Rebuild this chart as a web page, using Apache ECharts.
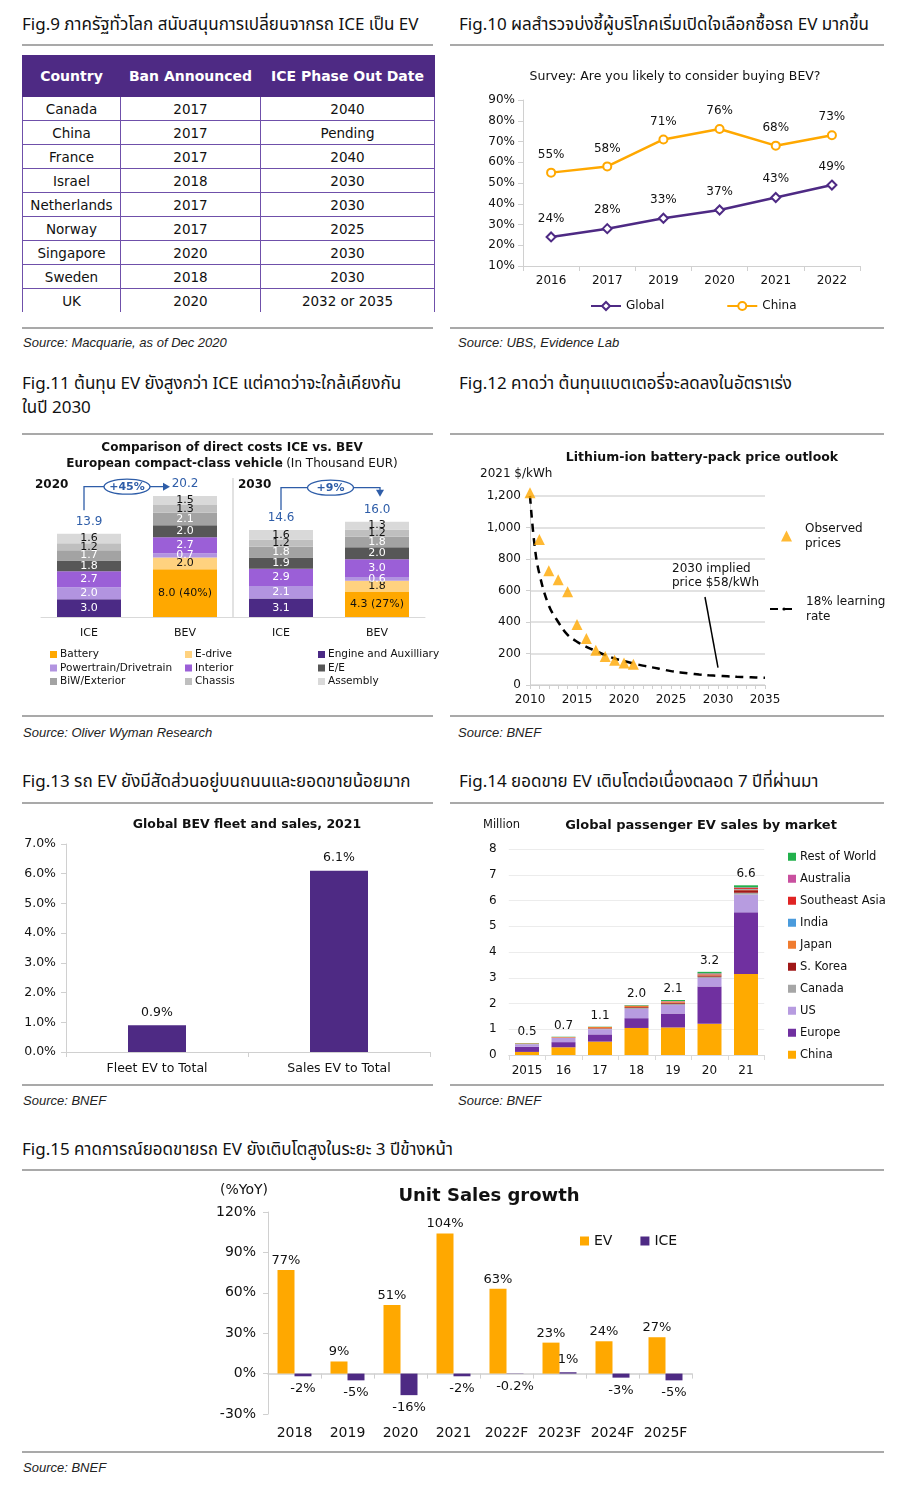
<!DOCTYPE html>
<html><head><meta charset="utf-8">
<script src="https://cdn.jsdelivr.net/npm/echarts@6/dist/echarts.min.js"></script>
<style>
body{margin:0;background:#fff;}
#page{position:relative;width:900px;height:1490px;overflow:hidden;background:#fff;font-family:'DejaVu Sans',sans-serif;}
.t{position:absolute;font-size:17px;line-height:24px;color:#111;white-space:nowrap;font-family:'Noto Sans Thai','Noto Sans Thai UI','Loma','Garuda','Noto Sans','DejaVu Sans',sans-serif;}
.hr{position:absolute;height:0;border-top:2px solid #a9a9a9;}
.src{position:absolute;font-size:13px;line-height:16px;font-style:italic;color:#222;white-space:nowrap;font-family:'Liberation Sans','DejaVu Sans',sans-serif;}
.c{position:absolute;}
#tbl{position:absolute;left:22px;top:55px;width:412px;border-collapse:collapse;table-layout:fixed;font-family:'DejaVu Sans',sans-serif;}
#tbl th{background:#4E2A84;color:#fff;height:40px;font-size:14px;font-weight:bold;border:1.5px solid #4E2A84;padding:0;}
#tbl td{height:23px;text-align:center;font-size:13.5px;color:#111;border:1.5px solid #6f50aa;padding:0;}
#tbl tr:last-child td{border-bottom:none;}
</style>
</head><body>
<div id="page">
  <div class="t" style="left:22px;top:13px">Fig.9 ภาครัฐทั่วโลก สนับสนุนการเปลี่ยนจากรถ ICE เป็น EV</div>
  <div class="t" style="left:459px;top:13px">Fig.10 ผลสำรวจบ่งชี้ผู้บริโภคเริ่มเปิดใจเลือกซื้อรถ EV มากขึ้น</div>
  <div class="t" style="left:22px;top:372px">Fig.11 ต้นทุน EV ยังสูงกว่า ICE แต่คาดว่าจะใกล้เคียงกัน</div>
  <div class="t" style="left:22px;top:396px">ในปี 2030</div>
  <div class="t" style="left:459px;top:372px">Fig.12 คาดว่า ต้นทุนแบตเตอรี่จะลดลงในอัตราเร่ง</div>
  <div class="t" style="left:22px;top:770px">Fig.13 รถ EV ยังมีสัดส่วนอยู่บนถนนและยอดขายน้อยมาก</div>
  <div class="t" style="left:459px;top:770px">Fig.14 ยอดขาย EV เติบโตต่อเนื่องตลอด 7 ปีที่ผ่านมา</div>
  <div class="t" style="left:22px;top:1138px">Fig.15 คาดการณ์ยอดขายรถ EV ยังเติบโตสูงในระยะ 3 ปีข้างหน้า</div>

  <div class="hr" style="left:22px;top:44px;width:411px"></div>
  <div class="hr" style="left:450px;top:44px;width:434px"></div>
  <div class="hr" style="left:22px;top:327px;width:411px"></div>
  <div class="hr" style="left:450px;top:327px;width:434px"></div>
  <div class="hr" style="left:22px;top:433px;width:411px"></div>
  <div class="hr" style="left:450px;top:433px;width:434px"></div>
  <div class="hr" style="left:22px;top:715px;width:411px"></div>
  <div class="hr" style="left:450px;top:715px;width:434px"></div>
  <div class="hr" style="left:22px;top:802px;width:411px"></div>
  <div class="hr" style="left:450px;top:802px;width:434px"></div>
  <div class="hr" style="left:22px;top:1084px;width:411px"></div>
  <div class="hr" style="left:450px;top:1084px;width:434px"></div>
  <div class="hr" style="left:22px;top:1169px;width:862px"></div>
  <div class="hr" style="left:22px;top:1451px;width:862px"></div>

  <div class="src" style="left:23px;top:335px">Source: Macquarie, as of Dec 2020</div>
  <div class="src" style="left:458px;top:335px">Source: UBS, Evidence Lab</div>
  <div class="src" style="left:23px;top:725px">Source: Oliver Wyman Research</div>
  <div class="src" style="left:458px;top:725px">Source: BNEF</div>
  <div class="src" style="left:23px;top:1093px">Source: BNEF</div>
  <div class="src" style="left:458px;top:1093px">Source: BNEF</div>
  <div class="src" style="left:23px;top:1460px">Source: BNEF</div>

  <table id="tbl"></table>

  <div class="c" id="c10" style="left:450px;top:50px;width:450px;height:270px"></div>
  <div class="c" id="c11" style="left:15px;top:436px;width:430px;height:278px"></div>
  <div class="c" id="c12" style="left:450px;top:436px;width:450px;height:278px"></div>
  <div class="c" id="c13" style="left:15px;top:808px;width:430px;height:275px"></div>
  <div class="c" id="c14" style="left:450px;top:808px;width:450px;height:275px"></div>
  <div class="c" id="c15" style="left:15px;top:1175px;width:885px;height:275px"></div>
</div>
<script>
// ---------- DATA ----------
// Fig.9 table
const tblHeader = ['Country', 'Ban Announced', 'ICE Phase Out Date'];
const tblCountries = ['Canada', 'China', 'France', 'Israel', 'Netherlands', 'Norway', 'Singapore', 'Sweden', 'UK'];
const tblBan = ['2017', '2017', '2017', '2018', '2017', '2017', '2020', '2018', '2020'];
const tblPhaseOut = ['2040', 'Pending', '2040', '2030', '2030', '2025', '2030', '2030', '2032 or 2035'];

// Fig.10 survey
const surveyYears = ['2016', '2017', '2019', '2020', '2021', '2022'];
const surveyGlobal = [24, 28, 33, 37, 43, 49];
const surveyChina = [55, 58, 71, 76, 68, 73];

// Fig.11 cost comparison (thousand EUR): ICE 2020, BEV 2020, ICE 2030, BEV 2030
const costCats = ['ICE', 'BEV', 'ICE', 'BEV'];
const costPeriods = ['2020', '2030'];
const costEngine = [3.0, null, 3.1, null];
const costBattery = [null, 8.0, null, 4.3];
const costEdrive = [null, 2.0, null, 1.8];
const costPowertrain = [2.0, 0.7, 2.1, 0.6];
const costInterior = [2.7, 2.7, 2.9, 3.0];
const costEE = [1.8, 2.0, 1.9, 2.0];
const costBiW = [1.7, 2.1, 1.8, 1.8];
const costChassis = [1.2, 1.3, 1.2, 1.2];
const costAssembly = [1.6, 1.5, 1.6, 1.3];
const costTotals = [13.9, 20.2, 14.6, 16.0];
const batteryShare = [null, 40, null, 27];
const costChange = ['+45%', '+9%'];

// Fig.12 battery price ($/kWh, 2021 real)
const priceYears = [2010, 2011, 2012, 2013, 2014, 2015, 2016, 2017, 2018, 2019, 2020, 2021];
const priceObserved = [1220, 924, 726, 668, 592, 384, 295, 221, 181, 157, 140, 132];
const curveYears = [2010, 2010.5, 2011, 2012, 2013, 2014, 2015, 2016, 2017, 2018, 2019, 2020, 2021, 2022, 2023, 2024, 2025, 2026, 2027, 2028, 2029, 2030, 2031, 2032, 2033, 2034, 2035];
const curvePrice = [1200, 880, 705, 505, 400, 318, 275, 242, 216, 190, 168, 152, 137, 123, 112, 100, 88, 80, 73, 67, 62, 58, 55, 52, 50, 48, 46];

// Fig.13
const fleetCats = ['Fleet EV to Total', 'Sales EV to Total'];
const fleetShare = [0.9, 6.1];

// Fig.14 EV sales by market (million)
const salesYears = ['2015', '16', '17', '18', '19', '20', '21'];
const salesChina = [0.12, 0.30, 0.52, 1.05, 1.07, 1.21, 3.15];
const salesEurope = [0.20, 0.20, 0.28, 0.38, 0.54, 1.45, 2.39];
const salesUS = [0.10, 0.16, 0.20, 0.36, 0.33, 0.33, 0.69];
const salesCanada = [0.01, 0.01, 0.02, 0.04, 0.05, 0.05, 0.07];
const salesKorea = [0.005, 0.01, 0.02, 0.03, 0.04, 0.05, 0.10];
const salesJapan = [0.02, 0.02, 0.05, 0.05, 0.04, 0.03, 0.03];
const salesIndia = [0, 0, 0, 0, 0.005, 0.01, 0.02];
const salesSEA = [0, 0, 0, 0.005, 0.01, 0.02, 0.04];
const salesAustralia = [0, 0, 0, 0.005, 0.01, 0.02, 0.02];
const salesRoW = [0.01, 0.01, 0.01, 0.02, 0.04, 0.06, 0.08];
const salesTotals = ['0.5', '0.7', '1.1', '2.0', '2.1', '3.2', '6.6'];

// Fig.15 unit sales growth (%YoY)
const growthYears = ['2018', '2019', '2020', '2021', '2022F', '2023F', '2024F', '2025F'];
const growthEV = [77, 9, 51, 104, 63, 23, 24, 27];
const growthICE = [-2, -5, -16, -2, -0.2, 1, -3, -5];

// ---------- STYLE ----------
const F = 'DejaVu Sans';
const PURPLE = '#4E2A84';
const ORANGE = '#FFA800';
const AX = '#d0d0d0';
const TXT = '#111';

// ---------- Fig.9 table ----------
(function () {
  const t = document.getElementById('tbl');
  const widths = [98, 140, 174];
  let h = '<colgroup>' + widths.map(w => '<col style="width:' + w + 'px">').join('') + '</colgroup>';
  h += '<tr>' + tblHeader.map(x => '<th>' + x + '</th>').join('') + '</tr>';
  tblCountries.forEach((c, i) => {
    h += '<tr><td>' + c + '</td><td>' + tblBan[i] + '</td><td>' + tblPhaseOut[i] + '</td></tr>';
  });
  t.innerHTML = h;
})();

// ---------- Fig.10 ----------
const c10 = echarts.init(document.getElementById('c10'));
c10.setOption({
  animation: false,
  textStyle: { fontFamily: F },
  title: { text: 'Survey: Are you likely to consider buying BEV?', left: 'center', top: 15,
    textStyle: { fontFamily: F, fontSize: 12.5, fontWeight: 'normal', color: TXT } },
  grid: { left: 73, right: 40, top: 50, height: 166 },
  xAxis: { type: 'category', data: surveyYears,
    axisLine: { lineStyle: { color: AX } }, axisTick: { show: true, lineStyle: { color: AX } },
    axisLabel: { color: TXT, fontSize: 12, margin: 9, interval: 0 } },
  yAxis: { type: 'value', min: 10, max: 90, interval: 10,
    axisLine: { show: true, lineStyle: { color: AX } }, axisTick: { show: true, lineStyle: { color: AX } },
    splitLine: { show: false }, axisLabel: { formatter: '{value}%', color: TXT, fontSize: 12 } },
  legend: { data: ['Global', 'China'], left: 135, top: 245, itemGap: 62, itemWidth: 30, itemHeight: 10,
    textStyle: { fontFamily: F, fontSize: 12, color: TXT } },
  series: [
    { name: 'Global', type: 'line', data: surveyGlobal, symbol: 'diamond', symbolSize: 9,
      itemStyle: { color: '#fff', borderColor: PURPLE, borderWidth: 2 },
      lineStyle: { color: PURPLE, width: 2.5 },
      label: { show: true, position: 'top', distance: 7, formatter: '{c}%', color: TXT, fontSize: 12 } },
    { name: 'China', type: 'line', data: surveyChina, symbol: 'circle', symbolSize: 8,
      itemStyle: { color: '#fff', borderColor: ORANGE, borderWidth: 2 },
      lineStyle: { color: ORANGE, width: 2.5 },
      label: { show: true, position: 'top', distance: 7, formatter: '{c}%', color: TXT, fontSize: 12 } }
  ]
});

// ---------- Fig.11 ----------
const segs = [
  { name: 'Engine and Auxilliary', data: costEngine, color: '#4B2A85', lc: '#fff' },
  { name: 'Battery', data: costBattery, color: '#FFA800', lc: '#111' },
  { name: 'E-drive', data: costEdrive, color: '#FFD27F', lc: '#111' },
  { name: 'Powertrain/Drivetrain', data: costPowertrain, color: '#B294E0', lc: '#fff' },
  { name: 'Interior', data: costInterior, color: '#9B5FD7', lc: '#fff' },
  { name: 'E/E', data: costEE, color: '#575757', lc: '#fff' },
  { name: 'BiW/Exterior', data: costBiW, color: '#A3A3A3', lc: '#fff' },
  { name: 'Chassis', data: costChassis, color: '#BFBFBF', lc: '#111' },
  { name: 'Assembly', data: costAssembly, color: '#D9D9D9', lc: '#111' }
];
const c11 = echarts.init(document.getElementById('c11'));
const s11 = segs.map(s => ({
  name: s.name, type: 'bar', stack: 'cost', data: s.data, barWidth: 64,
  itemStyle: { color: s.color },
  label: { show: true, position: 'inside', color: s.lc, fontSize: 11, fontFamily: F,
    formatter: p => s.name === 'Battery'
      ? p.value.toFixed(1) + ' (' + batteryShare[p.dataIndex] + '%)'
      : p.value.toFixed(1) }
}));
s11.push({ name: 'Total', type: 'bar', stack: 'cost', data: costTotals.map(() => 0), barWidth: 64,
  itemStyle: { color: 'transparent' },
  label: { show: true, position: 'top', distance: 6, color: '#2E5DA8', fontSize: 12, fontFamily: F,
    formatter: p => costTotals[p.dataIndex].toFixed(1) } });
const legStyle = { orient: 'vertical', icon: 'rect', itemWidth: 7, itemHeight: 7, itemGap: 2.5,
  textStyle: { fontFamily: F, fontSize: 10.5, color: TXT, padding: [0, 0, 0, -2] } };
c11.setOption({
  animation: false,
  textStyle: { fontFamily: F },
  grid: { left: 26, width: 384, top: 50, height: 131 },
  xAxis: { type: 'category', data: costCats, axisLine: { lineStyle: { color: '#d9d9d9' } }, axisTick: { show: false },
    axisLabel: { color: TXT, fontSize: 11, margin: 11, interval: 0 } },
  yAxis: { type: 'value', min: 0, max: 22, show: false },
  legend: [
    Object.assign({ left: 30, top: 208, data: ['Battery', 'Powertrain/Drivetrain', 'BiW/Exterior'] }, legStyle),
    Object.assign({ left: 165, top: 208, data: ['E-drive', 'Interior', 'Chassis'] }, legStyle),
    Object.assign({ left: 298, top: 208, data: ['Engine and Auxilliary', 'E/E', 'Assembly'] }, legStyle)
  ],
  series: s11
});
(function () {
  const px = (i, v) => c11.convertToPixel({ xAxisIndex: 0, yAxisIndex: 0 }, [i, v]);
  const BLUE = '#2E5DA8';
  const a0 = px(0, costTotals[0]), b0 = px(1, costTotals[1]);
  const a1 = px(2, costTotals[2]), b1 = px(3, costTotals[3]);
  const base = px(0, 0);
  const hy = b0[1] - 10;
  const g = [];
  g.push({ type: 'text', x: 217, y: 4, style: { text: '{b|Comparison of direct costs ICE vs. BEV}\n{b|European compact-class vehicle} {n|(In Thousand EUR)}',
    align: 'center', fill: TXT, rich: { b: { fontFamily: F, fontSize: 12, fontWeight: 'bold', lineHeight: 16, align: 'center' },
      n: { fontFamily: F, fontSize: 12, lineHeight: 16 } } } });
  g.push({ type: 'text', x: 20, y: 43, style: { text: costPeriods[0], fontFamily: F, fontSize: 12, fontWeight: 'bold', fill: TXT } });
  g.push({ type: 'text', x: 223, y: 43, style: { text: costPeriods[1], fontFamily: F, fontSize: 12, fontWeight: 'bold', fill: TXT } });
  const sepX = (px(1, 0)[0] + px(2, 0)[0]) / 2;
  g.push({ type: 'line', shape: { x1: sepX, y1: 42, x2: sepX, y2: base[1] }, style: { stroke: '#d9d9d9', lineWidth: 1.5 } });
  const x0 = a0[0] - 5, tip0 = b0[0] - 15;
  g.push({ type: 'polyline', shape: { points: [[x0, a0[1] - 24], [x0, hy], [tip0 - 6, hy]] }, style: { stroke: BLUE, lineWidth: 1.3, fill: null } });
  g.push({ type: 'polygon', shape: { points: [[tip0, hy], [tip0 - 7, hy - 4], [tip0 - 7, hy + 4]] }, style: { fill: BLUE } });
  const e0 = (x0 + tip0) / 2;
  g.push({ type: 'ellipse', shape: { cx: e0, cy: hy, rx: 23, ry: 7.5 }, style: { fill: '#fff', stroke: BLUE, lineWidth: 1.3 }, z: 5 });
  g.push({ type: 'text', x: e0, y: hy, z: 6, style: { text: costChange[0], align: 'center', verticalAlign: 'middle', fontFamily: F, fontSize: 11, fontWeight: 'bold', fill: BLUE } });
  const hy1 = hy + 1;
  const x1 = a1[0], ex = b1[0] + 3, tipY = b1[1] - 25;
  g.push({ type: 'polyline', shape: { points: [[x1, a1[1] - 20], [x1, hy1], [ex, hy1], [ex, tipY - 6]] }, style: { stroke: BLUE, lineWidth: 1.3, fill: null } });
  g.push({ type: 'polygon', shape: { points: [[ex, tipY], [ex - 4, tipY - 7], [ex + 4, tipY - 7]] }, style: { fill: BLUE } });
  const e1 = (x1 + ex) / 2;
  g.push({ type: 'ellipse', shape: { cx: e1, cy: hy1, rx: 23, ry: 7.5 }, style: { fill: '#fff', stroke: BLUE, lineWidth: 1.3 }, z: 5 });
  g.push({ type: 'text', x: e1, y: hy1, z: 6, style: { text: costChange[1], align: 'center', verticalAlign: 'middle', fontFamily: F, fontSize: 11, fontWeight: 'bold', fill: BLUE } });
  c11.setOption({ graphic: g });
})();

// ---------- Fig.12 ----------
const c12 = echarts.init(document.getElementById('c12'));
c12.setOption({
  animation: false,
  textStyle: { fontFamily: F },
  title: { text: 'Lithium-ion battery-pack price outlook', left: 247, textAlign: 'center', top: 10,
    textStyle: { fontFamily: F, fontSize: 12.5, fontWeight: 'bold', color: TXT } },
  grid: { left: 80, width: 235, top: 60, height: 189 },
  xAxis: { type: 'value', min: 2010, max: 2035, interval: 5,
    axisLine: { lineStyle: { color: '#cfcfcf' } }, axisTick: { show: true, length: 4, lineStyle: { color: '#cfcfcf' } },
    minorTick: { show: true, splitNumber: 5, length: 4, lineStyle: { color: '#cfcfcf' } },
    splitLine: { show: false },
    axisLabel: { color: TXT, fontSize: 12, margin: 9, formatter: v => String(v) } },
  yAxis: { type: 'value', min: 0, max: 1200, interval: 200,
    axisLine: { show: true, lineStyle: { color: '#cfcfcf' } }, axisTick: { show: true, length: 4, lineStyle: { color: '#cfcfcf' } },
    splitLine: { lineStyle: { color: '#d9d9d9', width: 1.5 } },
    axisLabel: { color: TXT, fontSize: 12, margin: 9, formatter: v => v.toLocaleString('en-US') } },
  legend: [
    { data: ['Observed prices'], orient: 'vertical', left: 326, top: 80, icon: 'triangle', itemWidth: 11, itemHeight: 11,
      formatter: n => n.replace(' ', '\n'), textStyle: { fontFamily: F, fontSize: 12, lineHeight: 15, color: TXT, padding: [0, 0, 0, 8] } },
    { data: ['18% learning rate'], orient: 'vertical', left: 314, top: 153, itemWidth: 28, itemHeight: 4,
      formatter: n => n.replace('learning ', 'learning\n'), textStyle: { fontFamily: F, fontSize: 12, lineHeight: 15, color: TXT, padding: [0, 0, 0, 3] } }
  ],
  series: [
    { name: '18% learning rate', type: 'line', data: curveYears.map((y, i) => [y, curvePrice[i]]), smooth: 0.4,
      symbol: 'none', itemStyle: { color: '#000' }, lineStyle: { color: '#000', width: 2.5, type: [8, 6] }, z: 2 },
    { name: 'Observed prices', type: 'scatter', data: priceYears.map((y, i) => [y, priceObserved[i]]), clip: false,
      symbol: 'triangle', symbolSize: 11, itemStyle: { color: ORANGE }, z: 3 }
  ]
});
(function () {
  const e = c12.convertToPixel({ xAxisIndex: 0, yAxisIndex: 0 }, [2030, 110]);
  c12.setOption({ graphic: [
    { type: 'text', x: 30, y: 32, style: { text: '2021 $/kWh', fontFamily: F, fontSize: 12, fill: TXT } },
    { type: 'text', x: 222, y: 126, style: { text: '2030 implied\nprice $58/kWh', fontFamily: F, fontSize: 12, lineHeight: 14, fill: TXT } },
    { type: 'line', shape: { x1: e[0] - 13, y1: 161, x2: e[0], y2: e[1] }, style: { stroke: '#000', lineWidth: 1.5 } }
  ] });
})();

// ---------- Fig.13 ----------
const c13 = echarts.init(document.getElementById('c13'));
c13.setOption({
  animation: false,
  textStyle: { fontFamily: F },
  title: { text: 'Global BEV fleet and sales, 2021', left: 227, textAlign: 'center', top: 5,
    textStyle: { fontFamily: F, fontSize: 12.5, fontWeight: 'bold', color: TXT } },
  grid: { left: 51, right: 15, top: 36, height: 208 },
  xAxis: { type: 'category', data: fleetCats,
    axisLine: { lineStyle: { color: AX } }, axisTick: { show: true, lineStyle: { color: AX } },
    axisLabel: { color: TXT, fontSize: 12.5, margin: 10, interval: 0 } },
  yAxis: { type: 'value', min: 0, max: 7, interval: 1,
    axisLine: { show: true, lineStyle: { color: AX } }, axisTick: { show: true, lineStyle: { color: AX } },
    splitLine: { show: false }, axisLabel: { color: TXT, fontSize: 12.5, margin: 10, formatter: v => v.toFixed(1) + '%' } },
  series: [{ type: 'bar', data: fleetShare, barWidth: 58, itemStyle: { color: PURPLE },
    label: { show: true, position: 'top', distance: 6, color: TXT, fontSize: 12.5, formatter: p => p.value.toFixed(1) + '%' } }]
});

// ---------- Fig.14 ----------
const mk = [
  { name: 'China', data: salesChina, color: '#FFAA00' },
  { name: 'Europe', data: salesEurope, color: '#7030A0' },
  { name: 'US', data: salesUS, color: '#B79CE0' },
  { name: 'Canada', data: salesCanada, color: '#A6A6A6' },
  { name: 'S. Korea', data: salesKorea, color: '#A01818' },
  { name: 'Japan', data: salesJapan, color: '#F07C30' },
  { name: 'India', data: salesIndia, color: '#4A9BDC' },
  { name: 'Southeast Asia', data: salesSEA, color: '#E02424' },
  { name: 'Australia', data: salesAustralia, color: '#C9509F' },
  { name: 'Rest of World', data: salesRoW, color: '#22B14C' }
];
const c14 = echarts.init(document.getElementById('c14'));
c14.setOption({
  animation: false,
  textStyle: { fontFamily: F },
  title: { text: 'Global passenger EV sales by market', left: 246, textAlign: 'center', top: 6,
    textStyle: { fontFamily: F, fontSize: 13, fontWeight: 'bold', color: TXT } },
  graphic: [{ type: 'text', x: 33, y: 11, style: { text: 'Million', fontFamily: F, fontSize: 11.5, fill: TXT } }],
  grid: { left: 58.75, right: 135.75, top: 41, height: 206 },
  xAxis: { type: 'category', data: salesYears,
    axisLine: { lineStyle: { color: '#d9d9d9' } }, axisTick: { show: true, lineStyle: { color: '#d9d9d9' } },
    axisLabel: { color: TXT, fontSize: 12, margin: 10, interval: 0 } },
  yAxis: { type: 'value', min: 0, max: 8, interval: 1, axisLine: { show: false }, axisTick: { show: false },
    splitLine: { lineStyle: { color: '#ececec' } }, axisLabel: { color: TXT, fontSize: 12, margin: 12 } },
  legend: { orient: 'vertical', left: 333, top: 37, icon: 'rect', itemWidth: 8, itemHeight: 8, itemGap: 8.5,
    data: mk.map(m => m.name).reverse(),
    textStyle: { fontFamily: F, fontSize: 11.5, lineHeight: 13.5, color: TXT, padding: [0, 0, 0, -1] } },
  series: mk.map((m, k) => ({
    name: m.name, type: 'bar', stack: 'sales', data: m.data, barWidth: 24, itemStyle: { color: m.color },
    label: k === mk.length - 1 ? { show: true, position: 'top', distance: 5, color: TXT, fontSize: 12,
      formatter: p => salesTotals[p.dataIndex] } : { show: false }
  }))
});

// ---------- Fig.15 ----------
const c15 = echarts.init(document.getElementById('c15'));
c15.setOption({
  animation: false,
  textStyle: { fontFamily: F },
  title: { text: 'Unit Sales growth', left: 469, textAlign: 'center', top: 7,
    textStyle: { fontFamily: F, fontSize: 18, fontWeight: 'bold', color: TXT } },
  graphic: [{ type: 'text', x: 229, y: 15, style: { text: '(%YoY)', align: 'center', verticalAlign: 'middle', fontFamily: F, fontSize: 14, fill: TXT } }],
  grid: { left: 253, width: 424, top: 37, height: 202 },
  xAxis: [
    { type: 'category', data: growthYears, position: 'bottom', axisLine: { show: false, onZero: false }, axisTick: { show: false },
      axisLabel: { color: TXT, fontSize: 14, margin: 12, interval: 0 } },
    { type: 'category', data: growthYears, position: 'top', axisLine: { show: true, onZero: true, lineStyle: { color: AX, width: 1.5 } },
      axisTick: { show: true, inside: true, length: 5, lineStyle: { color: AX } }, axisLabel: { show: false } }
  ],
  yAxis: { type: 'value', min: -30, max: 120, interval: 30,
    axisLine: { show: true, lineStyle: { color: AX } }, axisTick: { show: true, lineStyle: { color: AX } },
    splitLine: { show: false }, axisLabel: { color: TXT, fontSize: 14, margin: 12, formatter: '{value}%' } },
  legend: { data: ['EV', 'ICE'], left: 560, top: 54, icon: 'rect', itemWidth: 9, itemHeight: 9, itemGap: 28,
    textStyle: { fontFamily: F, fontSize: 14, color: TXT } },
  series: [
    { name: 'EV', type: 'bar', data: growthEV, barWidth: 17, barGap: '0%', itemStyle: { color: ORANGE },
      label: { show: true, position: 'top', distance: 3, color: TXT, fontSize: 13, formatter: '{c}%' } },
    { name: 'ICE', type: 'bar', data: growthICE.map(v => ({ value: v, label: { position: v >= 0 ? 'top' : 'bottom' } })),
      barWidth: 17, itemStyle: { color: PURPLE },
      label: { show: true, distance: 6, color: TXT, fontSize: 13, formatter: '{c}%' } }
  ]
});
</script>
</body></html>
